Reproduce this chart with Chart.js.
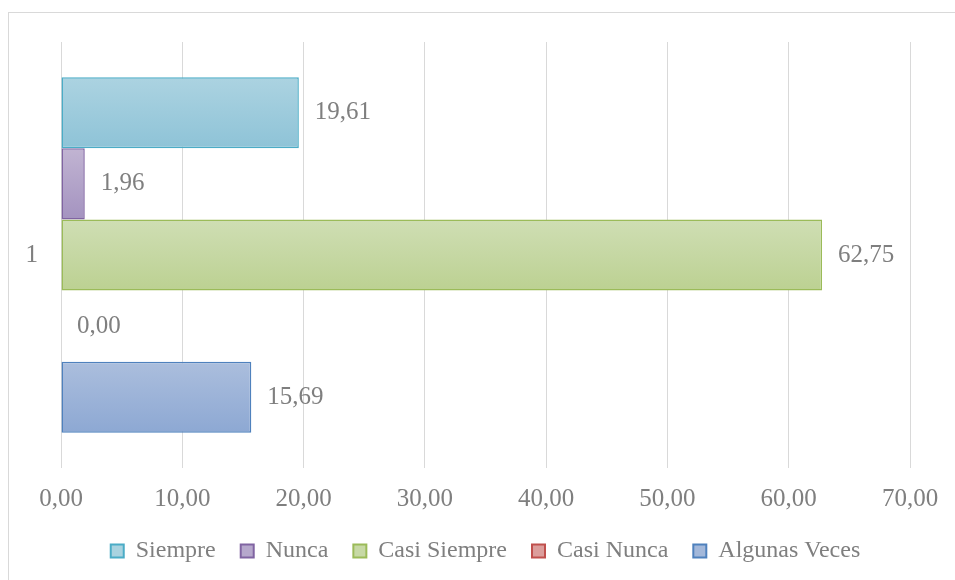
<!DOCTYPE html>
<html>
<head>
<meta charset="utf-8">
<script src="https://cdn.jsdelivr.net/npm/chart.js@4"></script>
<style>
    body { margin: 0; background: #fff; }
    #frame { position: absolute; left: 8px; top: 12px; width: 980px; height: 600px; border: 1px solid #d9d9d9; }
    #chart { position: absolute; left: 0; top: 0; }
</style>
</head>
<body>
<div id="frame"></div>
<canvas id="chart" width="955" height="580"></canvas>
<script>
// ── Datos ────────────────────────────────────────────────────────────────
const categories = ['1'];
const seriesNames = ['Siempre', 'Nunca', 'Casi Siempre', 'Casi Nunca', 'Algunas Veces'];
const siempre      = [19.61];
const nunca        = [1.96];
const casiSiempre  = [62.75];
const casiNunca    = [0.00];
const algunasVeces = [15.69];
const xTicks = [0, 10, 20, 30, 40, 50, 60, 70];

// ── Estilos ──────────────────────────────────────────────────────────────
const FONT     = 'Liberation Serif';
const GREY     = '#7f7f7f';
const CAT_PCT  = 0.835;
// [arriba, abajo, borde, leyenda]
const COLORS = [
    ['#acd3e1', '#8ec3d7', '#4bacc6', '#a9d3e0'],
    ['#c1b4d2', '#a493c0', '#8064a2', '#b6a8cc'],
    ['#cfdeb4', '#bcd192', '#9bbb59', '#c7d9a5'],
    ['#e3a9a8', '#d48886', '#c0504d', '#dc9e9c'],
    ['#abbedd', '#8da8d3', '#4f81bd', '#a3b8da']
];

const fmt = v => Number(v).toFixed(2).replace('.', ',');

// gradiente vertical por barra (como Excel)
function barFill(ctx) {
    const chart = ctx.chart;
    const area  = chart.chartArea;
    const c     = COLORS[ctx.datasetIndex];
    if (!area) return c[1];
    const center = chart.scales.y.getPixelForValue(ctx.dataIndex);
    const group  = (area.bottom - area.top) / categories.length * CAT_PCT;
    const slot   = group / chart.data.datasets.length;
    const top    = center - group / 2 + ctx.datasetIndex * slot;
    const g = chart.ctx.createLinearGradient(0, top, 0, top + slot);
    g.addColorStop(0, c[0]);
    g.addColorStop(1, c[1]);
    return g;
}

const valueLabels = {
    id: 'valueLabels',
    afterDatasetsDraw(chart) {
        const ctx = chart.ctx;
        ctx.save();
        ctx.font = `25px "${FONT}"`;
        ctx.fillStyle = GREY;
        ctx.textBaseline = 'middle';
        ctx.textAlign = 'left';
        chart.data.datasets.forEach((ds, i) => {
            chart.getDatasetMeta(i).data.forEach((el, j) => {
                ctx.fillText(fmt(ds.data[j]), el.x + 16, el.y);
            });
        });
        ctx.restore();
    }
};

const seriesData = [siempre, nunca, casiSiempre, casiNunca, algunasVeces];

new Chart(document.getElementById('chart'), {
    type: 'bar',
    data: {
        labels: categories,
        datasets: seriesNames.map((name, i) => ({
            label: name,
            data: seriesData[i],
            backgroundColor: barFill,
            borderColor: COLORS[i][2],
            borderWidth: 1.5,
            borderSkipped: false,
            categoryPercentage: CAT_PCT,
            barPercentage: 1
        }))
    },
    options: {
        indexAxis: 'y',
        responsive: false,
        animation: false,
        layout: { padding: { top: 42, right: 45, left: 0, bottom: 7 } },
        scales: {
            x: {
                min: 0, max: 70,
                afterBuildTicks: s => { s.ticks = xTicks.map(v => ({ value: v })); },
                grid: { color: '#d9d9d9', lineWidth: 1, drawTicks: false },
                border: { display: false },
                ticks: { color: GREY, font: { family: FONT, size: 25 }, padding: 16, callback: v => fmt(v) },
                afterFit: s => { s.height = 46; }
            },
            y: {
                grid: { display: false, drawTicks: false },
                border: { display: false },
                ticks: { color: GREY, font: { family: FONT, size: 25 }, padding: 23 },
                afterFit: s => { s.width = 61; }
            }
        },
        plugins: {
            legend: {
                position: 'bottom',
                fullSize: false,
                labels: {
                    color: GREY,
                    font: { family: FONT, size: 24 },
                    boxWidth: 13,
                    boxHeight: 13,
                    padding: 25,
                    generateLabels: chart => chart.data.datasets.map((ds, i) => ({
                        text: ds.label,
                        fillStyle: COLORS[i][3],
                        strokeStyle: COLORS[i][2],
                        fontColor: GREY,
                        lineWidth: 2,
                        datasetIndex: i
                    }))
                }
            },
            tooltip: { enabled: false }
        }
    },
    plugins: [valueLabels]
});
</script>
</body>
</html>
